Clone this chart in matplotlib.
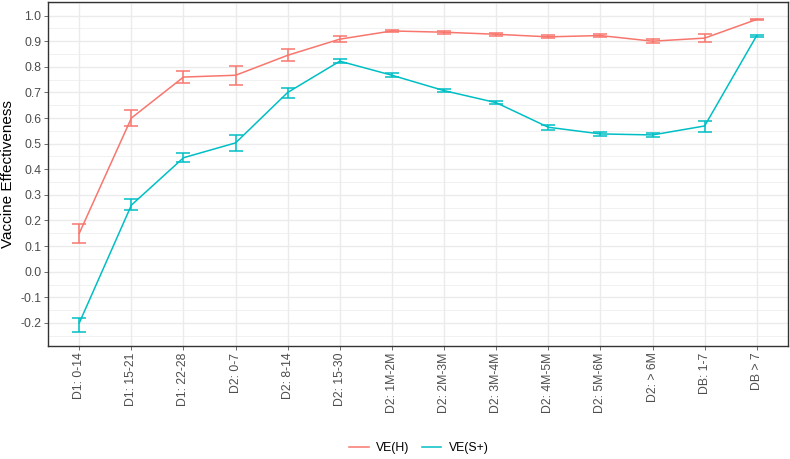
import matplotlib

matplotlib.use('Agg')
import matplotlib.pyplot as plt
import numpy as np

plt.rcParams['font.family'] = ['Liberation Sans', 'DejaVu Sans']

categories = ['D1: 0-14', 'D1: 15-21', 'D1: 22-28', 'D2: 0-7', 'D2: 8-14',
              'D2: 15-30', 'D2: 1M-2M', 'D2: 2M-3M', 'D2: 3M-4M', 'D2: 4M-5M',
              'D2: 5M-6M', 'D2: > 6M', 'DB: 1-7', 'DB > 7']

# VE(H): estimate, lower, upper
ve_h = [0.150, 0.600, 0.760, 0.767, 0.845, 0.908, 0.940, 0.935, 0.927, 0.917,
        0.922, 0.900, 0.912, 0.985]
ve_h_lo = [0.112, 0.570, 0.738, 0.730, 0.822, 0.895, 0.935, 0.930, 0.922, 0.911,
           0.917, 0.893, 0.897, 0.982]
ve_h_hi = [0.187, 0.630, 0.783, 0.803, 0.868, 0.920, 0.945, 0.940, 0.932, 0.923,
           0.927, 0.907, 0.927, 0.988]

# VE(S+): estimate, lower, upper
ve_s = [-0.200, 0.260, 0.445, 0.503, 0.700, 0.822, 0.767, 0.707, 0.660, 0.564,
        0.538, 0.534, 0.569, 0.922]
ve_s_lo = [-0.234, 0.240, 0.427, 0.473, 0.680, 0.813, 0.760, 0.700, 0.653, 0.555,
           0.530, 0.525, 0.545, 0.918]
ve_s_hi = [-0.182, 0.283, 0.465, 0.533, 0.718, 0.830, 0.774, 0.714, 0.667, 0.573,
           0.546, 0.543, 0.590, 0.926]

y_ticks = np.round(np.arange(-0.2, 1.01, 0.1), 1)

RED = '#F8766D'
CYAN = '#00BFC4'

fig = plt.figure(figsize=(7.9, 4.59), dpi=100)
ax = fig.add_axes([48 / 790, 1 - 346 / 459, (788 - 48) / 790, (346 - 2) / 459])

x = np.arange(len(categories))
for vals, lo, hi, col, lab in [(ve_h, ve_h_lo, ve_h_hi, RED, 'VE(H)'),
                               (ve_s, ve_s_lo, ve_s_hi, CYAN, 'VE(S+)')]:
    vals = np.array(vals)
    err = [vals - np.array(lo), np.array(hi) - vals]
    ax.plot(x, vals, color=col, lw=1.1, label=lab, zorder=3)
    ax.errorbar(x, vals, yerr=err, fmt='none', ecolor=col, elinewidth=1.1,
                capsize=4.7, capthick=1.1, zorder=3)

ax.set_xlim(-0.6, len(categories) - 0.4)
ax.set_ylim(-0.29, 1.053)
ax.set_xticks(x)
ax.set_xticklabels(categories, rotation=90, fontsize=8.8, color='#4D4D4D')
ax.set_yticks(y_ticks)
ax.set_yticklabels([f'{v:.1f}' for v in y_ticks], fontsize=8.8, color='#4D4D4D')
ax.set_yticks(np.arange(-0.25, 1.06, 0.1), minor=True)
ax.tick_params(which='major', length=2.75, width=0.5, color='#333333', pad=2)
ax.tick_params(which='minor', length=0)
ax.grid(which='major', color='#EBEBEB', lw=1.0, zorder=0)
ax.grid(which='minor', axis='y', color='#EBEBEB', lw=0.5, zorder=0)
ax.set_axisbelow(True)
for s in ax.spines.values():
    s.set_color('#333333')
    s.set_linewidth(1.0)
ax.set_ylabel('Vaccine Effectiveness', fontsize=11, labelpad=4)

handles, labels = ax.get_legend_handles_labels()
fig.legend(handles, labels, loc='center', bbox_to_anchor=(0.53, 1 - 448 / 459),
           ncol=2, frameon=False, fontsize=8.8, handlelength=1.6,
           columnspacing=1.0, handletextpad=0.6)

fig.savefig('out.png', dpi=100)
